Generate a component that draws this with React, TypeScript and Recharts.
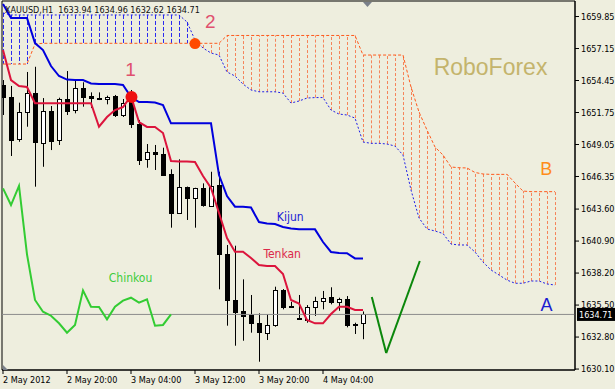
import React from "react";
import {
  ComposedChart,
  Bar,
  Line,
  XAxis,
  YAxis,
  ReferenceLine,
  ReferenceDot,
  ReferenceArea,
} from "recharts";

const COND = "'DejaVu Sans Condensed', 'DejaVu Sans', sans-serif";
const SANS = "'Liberation Sans', Arial, sans-serif";
const BG = "#eeeede";

// hourly XAUUSD bars, index 0 = 2 May 12:00
const opens = [
  1654.07, 1653.08, 1649.51, 1651.77, 1653.37, 1649.2, 1651.88, 1649.37, 1652.89, 1651.9,
  1653.79, 1653.14, 1652.95, 1652.86, 1653.14, 1651.51, 1653.06, 1650.78, 1647.8, 1648.42,
  1648.25, 1646.56, 1643.24, 1645.44, 1644.51, 1645.35, 1643.86, 1645.63, 1639.78, 1635.93,
  1635.0, 1634.66, 1633.96, 1633.17, 1633.76, 1636.77, 1635.42, 1634.38, 1634.3, 1635.36,
  1635.87, 1636.15, 1635.7, 1635.99, 1633.9, 1633.94,
];
const highs = [
  1654.49, 1653.99, 1652.58, 1655.17, 1655.61, 1652.97, 1652.3, 1653.0, 1655.25, 1654.41,
  1654.3, 1653.45, 1653.45, 1653.17, 1653.23, 1652.89, 1653.65, 1651.12, 1649.09, 1649.01,
  1648.78, 1646.96, 1647.8, 1645.5, 1645.4, 1645.77, 1646.75, 1646.75, 1640.57, 1640.51,
  1637.67, 1636.35, 1634.8, 1634.74, 1637.05, 1636.85, 1635.78, 1636.35, 1635.5, 1636.2,
  1636.69, 1637.0, 1636.12, 1636.26, 1634.01, 1634.96,
];
const lows = [
  1651.54, 1648.08, 1649.28, 1650.55, 1645.49, 1647.17, 1648.58, 1649.01, 1651.54, 1651.68,
  1652.24, 1652.13, 1652.8, 1652.44, 1651.37, 1651.37, 1650.44, 1647.32, 1647.09, 1646.9,
  1646.39, 1642.03, 1643.2, 1642.68, 1642.03, 1643.8, 1643.82, 1636.83, 1633.76, 1632.07,
  1632.49, 1633.17, 1630.72, 1632.55, 1633.67, 1635.14, 1635.31, 1634.3, 1634.01, 1634.58,
  1635.14, 1635.56, 1635.02, 1633.62, 1633.06, 1632.62,
];
const closes = [
  1653.06, 1649.49, 1651.82, 1653.37, 1649.2, 1651.88, 1649.37, 1652.86, 1651.88, 1653.79,
  1653.06, 1653.0, 1652.83, 1653.03, 1651.51, 1652.53, 1650.74, 1647.74, 1648.39, 1648.22,
  1646.47, 1643.24, 1645.44, 1644.51, 1645.35, 1643.94, 1645.55, 1639.78, 1635.93, 1634.94,
  1634.6, 1633.96, 1633.17, 1633.82, 1636.74, 1635.36, 1635.34, 1634.3, 1635.36, 1635.87,
  1636.12, 1635.7, 1635.99, 1633.76, 1633.82, 1634.71,
];

const tenkan = [
  1657.02, 1654.49, 1653.99, 1653.9, 1652.53, 1652.53, 1652.53, 1652.53, 1652.53, 1652.53,
  1652.53, 1652.53, 1650.55, 1651.37, 1651.96, 1652.21, 1653.14, 1650.95, 1650.53, 1650.53,
  1650.02, 1647.66, 1647.61, 1647.61, 1647.57, 1646.39, 1645.38, 1643.27, 1641.16, 1640.0,
  1640.0, 1639.47, 1638.88, 1638.8, 1638.8, 1638.12, 1635.93, 1635.63, 1634.24, 1633.96,
  1633.96, 1634.74, 1635.36, 1635.36, 1635.08, 1635.08,
];
const kijun = [
  1660.9, 1659.72, 1659.72, 1659.72, 1657.61, 1657.02, 1655.67, 1654.83, 1654.53, 1654.49,
  1654.49, 1654.2, 1654.15, 1654.15, 1654.15, 1654.07, 1653.06, 1652.63, 1652.63, 1652.59,
  1652.38, 1650.84, 1650.84, 1650.84, 1650.84, 1650.84, 1650.84, 1646.47, 1644.7, 1643.8,
  1643.8, 1643.73, 1642.51, 1642.38, 1642.34, 1642.09, 1641.96, 1641.89, 1641.89, 1641.89,
  1640.82, 1639.98, 1639.89, 1639.87, 1639.44, 1639.44,
];
const chinkou = [
  1645.35, 1643.94, 1645.55, 1639.78, 1635.93, 1634.94, 1634.6, 1633.96, 1633.17, 1633.82,
  1636.74, 1635.36, 1635.34, 1634.3, 1635.36, 1635.87, 1636.12, 1635.7, 1635.99, 1633.76,
  1633.82, 1634.71,
];
const senkouA = [
  1660.15, 1659.98, 1659.98, 1659.98, 1659.98, 1659.98, 1659.98, 1659.98, 1659.98, 1659.98,
  1659.98, 1659.98, 1659.98, 1659.98, 1659.98, 1659.98, 1659.98, 1659.98, 1659.98, 1659.98,
  1659.98, 1659.98, 1659.98, 1659.39, 1657.87, 1657.19, 1656.77, 1656.6, 1655.17, 1654.83,
  1654.15, 1653.65, 1653.5, 1653.5, 1653.5, 1653.39, 1652.55, 1652.72, 1652.97, 1653.01,
  1653.01, 1651.96, 1651.62, 1651.54, 1651.28, 1649.26, 1649.15, 1649.15, 1649.09, 1648.92,
  1648.16, 1645.21, 1642.85, 1641.92, 1641.75, 1641.54, 1640.65, 1640.57, 1640.57, 1639.98,
  1639.13, 1638.46, 1638.04, 1637.61, 1637.34, 1637.34, 1637.53, 1637.53, 1637.28, 1637.19,
];
const senkouB = [
  1655.84, 1655.84, 1655.84, 1655.84, 1657.53, 1657.59, 1657.59, 1657.59, 1657.59, 1657.59,
  1657.59, 1657.59, 1657.59, 1657.59, 1657.59, 1657.59, 1657.59, 1657.59, 1657.59, 1657.59,
  1657.59, 1657.59, 1657.59, 1657.59, 1657.59, 1657.59, 1657.59, 1657.59, 1658.25, 1658.25,
  1658.25, 1658.25, 1658.25, 1658.25, 1658.25, 1658.25, 1658.25, 1658.25, 1658.25, 1658.25,
  1658.25, 1658.25, 1658.25, 1658.25, 1658.25, 1656.6, 1656.6, 1656.6, 1656.6, 1656.6,
  1656.6, 1653.9, 1651.79, 1650.27, 1648.84, 1648.16, 1647.15, 1647.09, 1647.07, 1646.69,
  1646.56, 1646.53, 1646.53, 1646.53, 1645.8, 1645.12, 1645.07, 1645.07, 1645.07, 1645.07,
];

const timeTicks = [0, 8, 16, 24, 32, 40];
const timeLabels = ["2 May 2012", "2 May 20:00", "3 May 04:00", "3 May 12:00", "3 May 20:00", "4 May 04:00"];
const priceTicks = [
  1630.1, 1632.8, 1635.5, 1638.2, 1640.9, 1643.6, 1646.35, 1649.05, 1651.75, 1654.45, 1657.15, 1659.85,
];
const lastPrice = 1634.71;

// tenkan/kijun cross (1) and kumo twist (2)
const signalX = [16.06, 24];
const signalY = [1653.06, 1657.57];
// hand-drawn forecast
const waveX = [46.1, 47.9, 52.1];
const waveY = [1636.18, 1631.45, 1639.22];

const yMin = 1630.02;
const yMax = 1661.16;
const xMin = -0.125;
const xMax = 71.5;
// half a pixel in bar units, keeps 1px hatch strokes crisp
const HALF_PX = 1 / 16;

const rows = senkouA.map((a, i) => {
  const has = i < closes.length;
  return {
    i,
    open: has ? opens[i] : undefined,
    close: has ? closes[i] : undefined,
    high: has ? highs[i] : undefined,
    low: has ? lows[i] : undefined,
    range: has ? [lows[i], highs[i]] : undefined,
    tenkan: tenkan[i],
    kijun: kijun[i],
    chinkou: chinkou[i],
    senkouA: a,
    senkouB: senkouB[i],
  };
});

function Candle(props: any) {
  const { x, y, width, height, payload } = props;
  if (!payload || payload.open == null) return <g />;
  const cx = Math.round(x + width / 2) + 0.5;
  const span = payload.high - payload.low;
  const k = span > 0 ? height / span : 0;
  const yo = y + (payload.high - payload.open) * k;
  const yc = y + (payload.high - payload.close) * k;
  const top = Math.round(Math.min(yo, yc)) + 0.5;
  const h = Math.max(Math.round(Math.abs(yc - yo)), 1);
  const bull = payload.close >= payload.open;
  return (
    <g>
      <line x1={cx} x2={cx} y1={y} y2={y + height} stroke="#000" />
      <rect x={cx - 2} y={top} width={4} height={h} fill={bull ? "#fff" : "#000"} stroke="#000" />
    </g>
  );
}

const TimeTick = (p: any) => (
  <text x={p.x} y={p.y} dy={6.5} textAnchor="start" fontSize={9} fontFamily={COND} fill="#000">
    {timeLabels[timeTicks.indexOf(p.payload.value)]}
  </text>
);

function PriceTag(props: any) {
  const vb = props.viewBox || {};
  const x = vb.x + vb.width + 2;
  const y = vb.y;
  return (
    <g>
      <rect x={x} y={y - 6.5} width={38} height={13} fill="#000" />
      <text x={x + 2} y={y + 3.5} fill="#fff" fontSize={9} fontFamily={COND}>
        {lastPrice.toFixed(2)}
      </text>
    </g>
  );
}

const textShape = (text: string, color: string, size: number, family = SANS) => (p: any) => (
  <text
    x={p.cx}
    y={p.cy}
    textAnchor="middle"
    dominantBaseline="central"
    fill={color}
    fontSize={size}
    fontFamily={family}
  >
    {text}
  </text>
);

export default function App() {
  return (
    <div style={{ position: "absolute", left: 0, top: 0, width: 615, height: 389, background: BG }}>
      <ComposedChart width={615} height={389} data={rows} margin={{ top: 1, right: 0, bottom: 0, left: 2 }}>
        <XAxis
          xAxisId="main"
          dataKey="i"
          type="number"
          domain={[xMin, xMax]}
          ticks={timeTicks}
          interval={0}
          allowDataOverflow
          height={19}
          tickSize={4}
          tickMargin={2}
          axisLine={{ stroke: "#000" }}
          tickLine={{ stroke: "#000" }}
          tick={TimeTick}
        />
        <YAxis
          orientation="right"
          domain={[yMin, yMax]}
          ticks={priceTicks}
          interval={0}
          allowDataOverflow
          width={40}
          tickSize={4}
          tickMargin={2}
          axisLine={{ stroke: "#000" }}
          tickLine={{ stroke: "#000" }}
          tick={{ fontSize: 9, fontFamily: COND, fill: "#000" }}
          tickFormatter={(v: number) => v.toFixed(2)}
        />
        <ReferenceArea
          xAxisId="main"
          x1={xMin}
          x2={xMax}
          y1={yMin}
          y2={yMax}
          fill="none"
          stroke="#000"
          ifOverflow="visible"
        />
        <ReferenceLine xAxisId="main" y={lastPrice} stroke="#8c8c8c" label={<PriceTag />} />
        {/* kumo hatching: one dashed stroke per bar between the two spans */}
        {senkouA.map((a, i) =>
          Math.abs(a - senkouB[i]) < 0.05 ? null : (
            <ReferenceLine
              key={`h${i}`}
              xAxisId="main"
              segment={[
                { x: i + HALF_PX, y: a },
                { x: i + HALF_PX, y: senkouB[i] },
              ]}
              stroke={a > senkouB[i] ? "#2a2af0" : "#f5845a"}
              strokeWidth={1}
              strokeDasharray={a > senkouB[i] ? "4 2" : "3 2"}
            />
          )
        )}
        <Line xAxisId="main" dataKey="senkouA" stroke="#1f1fe8" strokeWidth={1} strokeDasharray="2 2" dot={false} type="linear" isAnimationActive={false} />
        <Line xAxisId="main" dataKey="senkouB" stroke="#ff5a1c" strokeWidth={1} strokeDasharray="3 2" dot={false} type="linear" isAnimationActive={false} />
        <Bar xAxisId="main" dataKey="range" barSize={5} shape={(p: any) => <Candle {...p} />} isAnimationActive={false} />
        <Line xAxisId="main" dataKey="chinkou" stroke="#33cc33" strokeWidth={2} dot={false} type="linear" isAnimationActive={false} />
        <Line xAxisId="main" dataKey="kijun" stroke="#0000dd" strokeWidth={2} dot={false} type="linear" isAnimationActive={false} />
        <Line xAxisId="main" dataKey="tenkan" stroke="#dc143c" strokeWidth={2} dot={false} type="linear" isAnimationActive={false} />
        {waveX.slice(1).map((x, k) => (
          <ReferenceLine
            key={`w${k}`}
            xAxisId="main"
            segment={[
              { x: waveX[k], y: waveY[k] },
              { x, y: waveY[k + 1] },
            ]}
            stroke="#0b870b"
            strokeWidth={2}
          />
        ))}
        <ReferenceDot xAxisId="main" x={signalX[0]} y={signalY[0]} r={6} fill="#ee1111" stroke="none" />
        <ReferenceDot xAxisId="main" x={signalX[1]} y={signalY[1]} r={5.5} fill="#ff4a00" stroke="none" />
        <ReferenceDot xAxisId="main" x={15.94} y={1655.42} ifOverflow="visible" shape={textShape("1", "#e0506e", 19)} />
        <ReferenceDot xAxisId="main" x={25.9} y={1659.39} ifOverflow="visible" shape={textShape("2", "#e0506e", 19)} />
        <ReferenceDot xAxisId="main" x={35.9} y={1642.93} ifOverflow="visible" shape={textShape("Kijun", "#1c1cd6", 12, COND)} />
        <ReferenceDot xAxisId="main" x={34.9} y={1639.85} ifOverflow="visible" shape={textShape("Tenkan", "#dc2a4a", 12, COND)} />
        <ReferenceDot xAxisId="main" x={15.94} y={1637.78} ifOverflow="visible" shape={textShape("Chinkou", "#3ccc3c", 12, COND)} />
        <ReferenceDot xAxisId="main" x={60.94} y={1655.59} ifOverflow="visible" shape={textShape("RoboForex", "#c4b46c", 23)} />
        <ReferenceDot xAxisId="main" x={67.9} y={1647.02} ifOverflow="visible" shape={textShape("B", "#ff8c1a", 18)} />
        <ReferenceDot xAxisId="main" x={67.94} y={1635.5} ifOverflow="visible" shape={textShape("A", "#1c1cd0", 18)} />
        <ReferenceDot
          xAxisId="main"
          x={45.56}
          y={yMax}
          ifOverflow="visible"
          shape={(p: any) => (
            <polygon points={`${p.cx - 4.5},${p.cy + 1} ${p.cx + 4.5},${p.cy + 1} ${p.cx},${p.cy + 6}`} fill="#7a808a" />
          )}
        />
        <ReferenceDot
          xAxisId="main"
          x={xMin}
          y={yMin}
          ifOverflow="visible"
          shape={(p: any) => (
            <polygon points={`${p.cx + 1},${p.cy - 5} ${p.cx + 1},${p.cy} ${p.cx + 6},${p.cy}`} fill="#7a808a" />
          )}
        />
      </ComposedChart>
      <div
        style={{
          position: "absolute",
          left: 5,
          top: 5,
          fontFamily: COND,
          fontSize: 9,
          lineHeight: "11px",
          color: "#111",
          whiteSpace: "pre",
          pointerEvents: "none",
        }}
      >
        {"XAUUSD,H1  1633.94 1634.96 1632.62 1634.71"}
      </div>
    </div>
  );
}
